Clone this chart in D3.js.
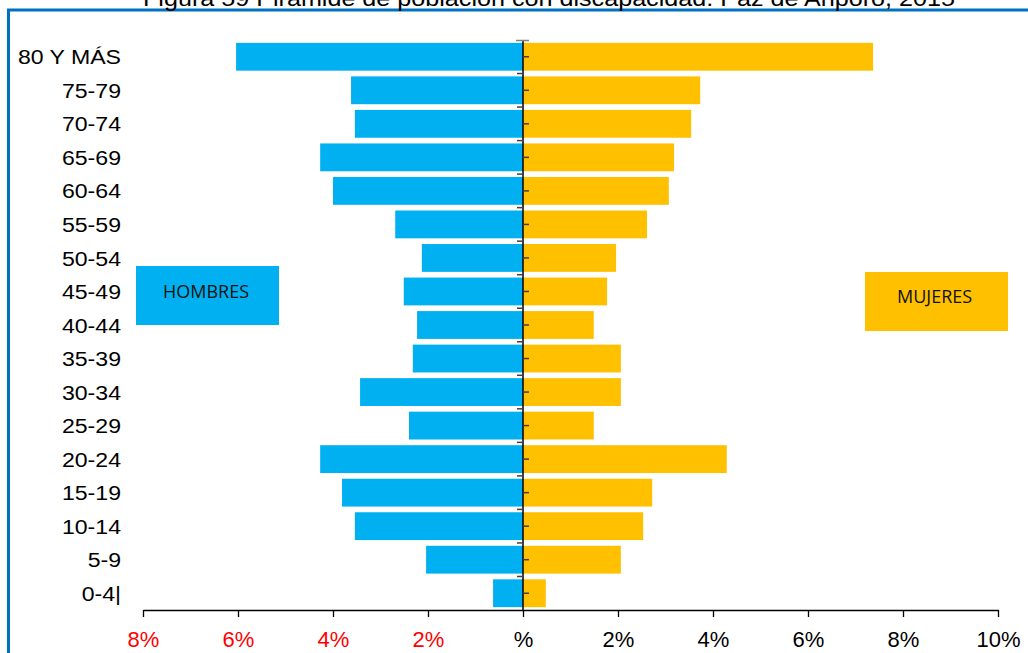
<!DOCTYPE html>
<html>
<head>
<meta charset="utf-8">
<script src="https://cdn.jsdelivr.net/npm/d3@7"></script>
<style>
html,body{margin:0;padding:0;background:#fff;overflow:hidden;}
svg{display:block;font-family:Arial,"Liberation Sans",sans-serif;}
</style>
</head>
<body>
<svg id="chart" width="1028" height="653"></svg>
<script>
const titleText = "Figura 59 Pirámide de población con discapacidad. Paz de Ariporo, 2015";
const categories = ["80 Y MÁS","75-79","70-74","65-69","60-64","55-59","50-54","45-49","40-44","35-39","30-34","25-29","20-24","15-19","10-14","5-9","0-4|"];
const hombres = [6.04,3.62,3.54,4.27,4.00,2.69,2.13,2.51,2.23,2.32,3.43,2.40,4.27,3.81,3.54,2.04,0.63];
const mujeres = [7.37,3.73,3.54,3.18,3.07,2.61,1.96,1.77,1.49,2.06,2.06,1.49,4.29,2.72,2.53,2.06,0.48];
const tickValues = [-8,-6,-4,-2,0,2,4,6,8,10];
const tickLabels = ["8%","6%","4%","2%","%","2%","4%","6%","8%","10%"];
const seriesNames = ["HOMBRES","MUJERES"];

const svg = d3.select("#chart");
const W = 1028, H = 653;

// frame
svg.append("line").attr("x1",8.5).attr("x2",8.5).attr("y1",9).attr("y2",H)
  .attr("stroke","#0070C0").attr("stroke-width",3);
svg.append("line").attr("x1",7).attr("x2",W).attr("y1",10).attr("y2",10)
  .attr("stroke","#0070C0").attr("stroke-width",3);

// title (clipped at top, as in the reference)
svg.append("text").attr("x",143).attr("y",6).attr("font-size",22).attr("fill","#000")
  .attr("textLength",812).attr("lengthAdjust","spacingAndGlyphs")
  .text(titleText);

const x = d3.scaleLinear().domain([-8,10]).range([143,998]);
const y = d3.scaleBand().domain(categories).range([40,610]).paddingInner(0.17).paddingOuter(0.085);

// bars
const g = svg.append("g");
g.selectAll("rect.h").data(categories).join("rect").attr("class","h")
  .attr("x",(d,i)=>x(-hombres[i])).attr("width",(d,i)=>x(0)-x(-hombres[i]))
  .attr("y",d=>y(d)).attr("height",y.bandwidth())
  .attr("fill","#00B0F0");
g.selectAll("rect.m").data(categories).join("rect").attr("class","m")
  .attr("x",x(0)).attr("width",(d,i)=>x(mujeres[i])-x(0))
  .attr("y",d=>y(d)).attr("height",y.bandwidth())
  .attr("fill","#FFC000");

// x axis
const xAxis = d3.axisBottom(x).tickValues(tickValues).tickSize(7).tickSizeOuter(0)
  .tickFormat((d,i)=>tickLabels[i]);
const xg = svg.append("g").attr("transform","translate(0,610)").call(xAxis);
xg.select(".domain").attr("stroke","#000").attr("stroke-width",1.3);
xg.selectAll(".tick line").attr("stroke","#000").attr("stroke-width",1.3);
xg.selectAll(".tick text").attr("font-size",22).attr("font-family","Arial, 'Liberation Sans', sans-serif")
  .attr("dy","0").attr("y",37)
  .attr("fill",d=>d<0?"#FF0000":"#000");

// vertical axis at 0
const step = y.step();
svg.append("line").attr("x1",x(0)).attr("x2",x(0)).attr("y1",40).attr("y2",610)
  .attr("stroke","#000").attr("stroke-width",1.5);
svg.append("line").attr("x1",x(0)-7).attr("x2",x(0)+6).attr("y1",40.5).attr("y2",40.5)
  .attr("stroke","#808080").attr("stroke-width",1.5);
// left ticks at boundaries, right ticks at centers
svg.selectAll("line.bt").data(categories.slice(1)).join("line").attr("class","bt")
  .attr("x1",x(0)-6).attr("x2",x(0)).attr("y1",d=>y(d)-y.paddingInner()*step/2).attr("y2",d=>y(d)-y.paddingInner()*step/2)
  .attr("stroke","#404040").attr("stroke-width",1.5);
svg.selectAll("line.ct").data(categories).join("line").attr("class","ct")
  .attr("x1",x(0)).attr("x2",x(0)+6).attr("y1",d=>y(d)+y.bandwidth()/2).attr("y2",d=>y(d)+y.bandwidth()/2)
  .attr("stroke","#404040").attr("stroke-width",1.5);

// category labels
svg.selectAll("text.cat").data(categories).join("text").attr("class","cat")
  .attr("transform",d=>`translate(121,${y(d)+y.bandwidth()/2}) scale(1.1,1)`)
  .attr("dy","0.36em")
  .attr("text-anchor","end").attr("font-size",21).attr("fill","#000")
  .text(d=>d);

// legend boxes
const leg = [
  {name:seriesNames[0], x:136, y:266, w:143, h:59, fill:"#00B0F0", tx:163, ty:298},
  {name:seriesNames[1], x:865, y:272, w:143, h:59, fill:"#FFC000", tx:897, ty:303}
];
leg.forEach(l=>{
  svg.append("rect").attr("x",l.x).attr("y",l.y).attr("width",l.w).attr("height",l.h).attr("fill",l.fill);
  svg.append("text").attr("x",l.tx).attr("y",l.ty).attr("font-size",18)
    .attr("font-family","'Open Sans','Noto Sans',sans-serif").attr("fill","#111").text(l.name);
});
</script>
</body>
</html>
